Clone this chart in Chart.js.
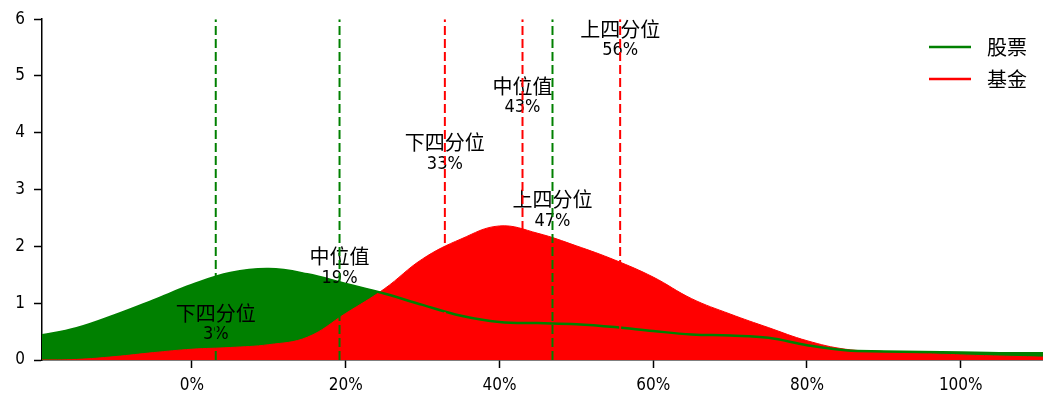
<!DOCTYPE html>
<html>
<head>
<meta charset="utf-8">
<script src="https://cdn.jsdelivr.net/npm/chart.js@4.4.1/dist/chart.umd.min.js"></script>
<style>
  html, body { margin: 0; padding: 0; background: #ffffff; }
  #wrap { width: 1043px; height: 396px; }
</style>
</head>
<body>
<div id="wrap"><canvas id="c" width="1043" height="396"></canvas></div>
<script>
// Density sample positions (return, %)
const xGrid = [-20, -15, -10, -5, 0, 5, 10, 15, 20, 25, 30, 35, 40, 45, 50, 55, 60, 65, 70, 75, 80, 85, 90, 95, 100, 105, 111];
// Estimated density of stock returns
const stockDensity = [0.42, 0.56, 0.79, 1.05, 1.32, 1.53, 1.60, 1.51, 1.34, 1.17, 0.97, 0.78, 0.67, 0.65, 0.63, 0.58, 0.51, 0.45, 0.43, 0.39, 0.26, 0.17, 0.15, 0.14, 0.13, 0.12, 0.12];
// Estimated density of fund returns
const fundDensity = [0.00, 0.01, 0.06, 0.13, 0.19, 0.22, 0.27, 0.40, 0.82, 1.25, 1.78, 2.13, 2.36, 2.23, 2.01, 1.76, 1.46, 1.08, 0.81, 0.57, 0.34, 0.19, 0.15, 0.12, 0.09, 0.07, 0.05];

const seriesNames = ['股票', '基金'];
const quartileNames = ['下四分位', '中位值', '上四分位'];
// Quartiles (%)
const stockQuartiles = [3.1, 19.2, 46.9];
const fundQuartiles = [32.9, 43.0, 55.7];
// Height (density units) at which each quartile caption sits
const stockLabelY = [0.64, 1.64, 2.64];
const fundLabelY = [3.64, 4.64, 5.64];

const xTicks = [0, 20, 40, 60, 80, 100];
const yTicks = [0, 1, 2, 3, 4, 5, 6];

const GREEN = '#008000';
const RED = '#ff0000';
const FONT = "'DejaVu Sans Condensed', 'Noto Sans CJK SC', sans-serif";
const CJK_FONT = "'Noto Sans CJK SC', sans-serif";

const pts = ys => xGrid.map((x, i) => ({ x: x, y: ys[i] }));

const quartileLine = (q, color) => ({
  label: '',
  data: [{ x: q, y: yTicks[0] }, { x: q, y: yTicks[yTicks.length - 1] }],
  borderColor: color,
  borderWidth: 2,
  borderDash: [9, 4],
  pointRadius: 0,
  fill: false,
  order: 0
});

const datasets = [
  ...stockQuartiles.map(q => quartileLine(q, GREEN)),
  ...fundQuartiles.map(q => quartileLine(q, RED)),
  { // stock density outline, kept above the fund area
    label: seriesNames[0] + '_line',
    data: pts(stockDensity),
    borderColor: GREEN,
    borderWidth: 2.5,
    fill: false,
    pointRadius: 0,
    tension: 0.4,
    order: 1
  },
  {
    label: seriesNames[1],
    data: pts(fundDensity),
    borderColor: RED,
    backgroundColor: RED,
    borderWidth: 1,
    fill: 'origin',
    pointRadius: 0,
    tension: 0.4,
    order: 2
  },
  {
    label: seriesNames[0],
    data: pts(stockDensity),
    borderColor: GREEN,
    backgroundColor: GREEN,
    borderWidth: 1,
    fill: 'origin',
    pointRadius: 0,
    tension: 0.4,
    order: 3
  }
];
const outlineIndex = stockQuartiles.length + fundQuartiles.length;

// Quartile captions: drawn over the areas, under the dashed lines
const quartileCaptions = {
  id: 'quartileCaptions',
  afterDatasetDraw(chart, args) {
    if (args.index !== outlineIndex) return;
    const { ctx } = chart;
    const xs = chart.scales.x, ys = chart.scales.y;
    ctx.save();
    ctx.fillStyle = '#000';
    ctx.textAlign = 'center';
    ctx.textBaseline = 'middle';
    const groups = [[stockQuartiles, stockLabelY], [fundQuartiles, fundLabelY]];
    groups.forEach(([qs, ly]) => {
      qs.forEach((q, i) => {
        const px = xs.getPixelForValue(q);
        const py = ys.getPixelForValue(ly[i]);
        ctx.font = '20px ' + CJK_FONT;
        ctx.fillText(quartileNames[i], px, py - 10.5);
        ctx.font = '18px ' + FONT;
        ctx.fillText(Math.round(q) + '%', px, py + 11);
      });
    });
    ctx.restore();
  }
};

// Place the legend in the upper right corner of the plot
const legendCorner = {
  id: 'legendCorner',
  afterLayout(chart) {
    const lg = chart.legend;
    if (!lg) return;
    lg.left = 917;
    lg.right = 1027;
    lg.top = 25;
    lg.bottom = 360;
    lg.width = lg.right - lg.left;
    lg.height = lg.bottom - lg.top;
  }
};

new Chart(document.getElementById('c'), {
  type: 'line',
  data: { datasets: datasets },
  options: {
    responsive: false,
    animation: false,
    devicePixelRatio: 1,
    layout: { padding: { top: 18, right: 0, left: 0, bottom: 0 } },
    plugins: {
      tooltip: { enabled: false },
      legend: {
        position: 'chartArea',
        align: 'start',
        labels: {
          usePointStyle: true,
          pointStyleWidth: 42,
          padding: 12,
          textAlign: 'right',
          color: '#000',
          font: { family: CJK_FONT, size: 20, lineHeight: 1 },
          generateLabels: () => [
            { text: seriesNames[0], fillStyle: GREEN, strokeStyle: GREEN, lineWidth: 2.5, pointStyle: 'line', hidden: false, fontColor: '#000' },
            { text: seriesNames[1], fillStyle: RED, strokeStyle: RED, lineWidth: 2.5, pointStyle: 'line', hidden: false, fontColor: '#000' }
          ]
        }
      }
    },
    scales: {
      x: {
        type: 'linear',
        min: -19.5,
        max: 110.7,
        afterBuildTicks: s => { s.ticks = xTicks.map(v => ({ value: v })); },
        afterFit: s => { s.height = 36; },
        grid: { drawOnChartArea: false, drawTicks: true, tickLength: 8, tickColor: '#000', tickWidth: 1.5 },
        border: { display: true, color: '#000', width: 1.5 },
        ticks: {
          color: '#000',
          padding: 7,
          maxRotation: 0,
          font: { family: FONT, size: 17 },
          callback: v => v + '%'
        }
      },
      y: {
        type: 'linear',
        min: yTicks[0],
        max: yTicks[yTicks.length - 1],
        afterBuildTicks: s => { s.ticks = yTicks.map(v => ({ value: v })); },
        afterFit: s => { s.width = 42; },
        grid: { drawOnChartArea: false, drawTicks: true, tickLength: 8, tickColor: '#000', tickWidth: 1.5 },
        border: { display: true, color: '#000', width: 1.5 },
        ticks: {
          color: '#000',
          padding: 9,
          font: { family: FONT, size: 17 }
        }
      }
    }
  },
  plugins: [quartileCaptions, legendCorner]
});
</script>
</body>
</html>
